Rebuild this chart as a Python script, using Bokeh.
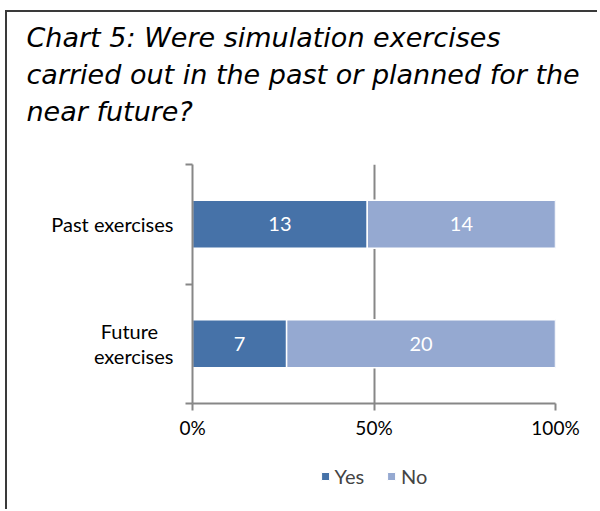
from bokeh.plotting import figure
from bokeh.layouts import column
from bokeh.models import (Range1d, LinearAxis, FixedTicker,
                          ColumnDataSource, Legend, LegendItem)
from bokeh.core.properties import value
from bokeh.embed import file_html
from bokeh.resources import INLINE

# ---- data ----
categories = ["Past exercises", "Future exercises"]
category_labels = ["Past exercises", "Future\u00a0\u00a0\u00a0\nexercises"]
yes_counts = [13, 7]
no_counts = [14, 20]
series_names = ["Yes", "No"]
x_ticks = [0, 0.5, 1.0]
x_tick_labels = ["0%", "50%", "100%"]
title_lines = ["Chart 5: Were simulation exercises",
               "carried out in the past or planned for the",
               "near future?"]

# ---- styles ----
C_YES = "#4672a8"
C_NO = "#95a9d1"
series_colors = [C_YES, C_NO]
GRID = "#878787"
FONT = "Lato"
FS = "20px"
W = 590
ML, MR = 185, 42
H_TITLE = 150

n = len(categories)
ypos = [n - 0.5 - i for i in range(n)]          # first category on top
totals = [y + k for y, k in zip(yes_counts, no_counts)]
yes_frac = [y / t for y, t in zip(yes_counts, totals)]
no_frac = [k / t for k, t in zip(no_counts, totals)]

src = ColumnDataSource(dict(y=ypos, cat=categories, yes=yes_frac, no=no_frac))

lbl_src = ColumnDataSource(dict(
    x=[f / 2 for f in yes_frac] + [yf + nf / 2 for yf, nf in zip(yes_frac, no_frac)],
    y=ypos + ypos,
    t=[str(v) for v in yes_counts] + [str(v) for v in no_counts],
))

# ---- title strip ----
p0 = figure(width=W, height=H_TITLE, x_range=Range1d(0, 1), y_range=Range1d(0, 1),
            x_axis_location=None, y_axis_location=None,
            output_backend="svg", toolbar_location=None,
            min_border_left=ML, min_border_right=MR, min_border_top=0, min_border_bottom=0)
p0.outline_line_color = None
p0.grid.visible = False
p0.title.text = "\n".join(title_lines)
p0.title.text_font = "DejaVu Sans"
p0.title.text_font_style = "italic"
p0.title.text_font_size = "27px"
p0.title.text_line_height = 1.2
p0.title.text_color = "black"
p0.title.align = "left"
p0.title.offset = -166
p0.title.standoff = 16

# ---- main chart ----
p = figure(width=W, height=445 - H_TITLE,
           y_range=Range1d(0, n),
           x_range=Range1d(0, 1),
           y_axis_location=None,
           output_backend="svg", toolbar_location=None,
           min_border_left=ML, min_border_right=MR,
           min_border_top=152 - H_TITLE, min_border_bottom=54)
p.outline_line_color = None
p.background_fill_color = "white"
p.border_fill_color = "white"

# x axis
xa = p.xaxis[0]
xa.ticker = FixedTicker(ticks=x_ticks)
xa.major_label_overrides = dict(zip(x_ticks, x_tick_labels))
xa.axis_line_color = GRID
xa.axis_line_width = 2
xa.major_tick_line_color = GRID
xa.major_tick_line_width = 2
xa.major_tick_in = 0
xa.major_tick_out = 7
xa.minor_tick_line_color = None
xa.major_label_text_font = FONT
xa.major_label_text_font_size = "19px"
xa.major_label_text_color = "black"
xa.major_label_standoff = 5

p.xgrid.ticker = FixedTicker(ticks=x_ticks)
p.xgrid.grid_line_color = GRID
p.xgrid.grid_line_width = 2
p.ygrid.visible = False

# y axes: boundary ticks + category labels
bt = list(range(n + 1))
ya_ticks = LinearAxis(ticker=FixedTicker(ticks=bt),
                      major_label_overrides={t: "" for t in bt},
                      axis_line_color=GRID, axis_line_width=2,
                      major_tick_line_color=GRID, major_tick_line_width=2,
                      major_tick_in=0, major_tick_out=7,
                      minor_tick_line_color=None, major_label_standoff=0,
                      major_label_text_font_size="1px")
p.add_layout(ya_ticks, "left")
ya_lab = LinearAxis(ticker=FixedTicker(ticks=ypos),
                    major_label_overrides=dict(zip(ypos, category_labels)),
                    major_tick_line_color=None, axis_line_color=None,
                    minor_tick_line_color=None,
                    major_label_text_font=FONT, major_label_text_font_size=FS,
                    major_label_text_line_height=1.05,
                    major_label_text_color="black", major_label_standoff=6)
p.add_layout(ya_lab, "left")

p.hbar_stack(["yes", "no"], y="y", height=0.4, source=src,
             fill_color=series_colors, line_color="white", line_width=1.5)

p.text(x="x", y="y", text="t", source=lbl_src, text_align="center",
       text_baseline="middle", text_color="white",
       text_font=value(FONT), text_font_size=FS)

# ---- legend strip (its bars lie outside its visible range; they only
# supply the legend swatches) ----
p2 = figure(width=W, height=38, x_range=Range1d(0, 1), y_range=Range1d(n, n + 1),
            x_axis_location=None, y_axis_location=None,
            output_backend="svg", toolbar_location=None,
            min_border_left=ML, min_border_right=MR, min_border_top=0, min_border_bottom=0)
p2.outline_line_color = None
p2.grid.visible = False
rs2 = p2.hbar_stack(["yes", "no"], y="y", height=0.4, source=src,
                    fill_color=series_colors, line_color="white", line_width=1)
legend = Legend(items=[LegendItem(label=s, renderers=[r]) for s, r in zip(series_names, rs2)],
                orientation="horizontal", location="center",
                label_text_font=FONT, label_text_font_size=FS,
                glyph_width=10, glyph_height=10, label_standoff=5, spacing=22,
                padding=0, margin=0, border_line_color=None, background_fill_alpha=0)
p2.add_layout(legend, "center")

lay = column(p0, p, p2, spacing=0,
             styles={"border-left": "2px solid #3a3a3a", "border-top": "2px solid #3a3a3a",
                     "margin-left": "5px", "margin-top": "10px", "padding-bottom": "14px"})

open("out.html", "w").write(file_html(lay, INLINE))
